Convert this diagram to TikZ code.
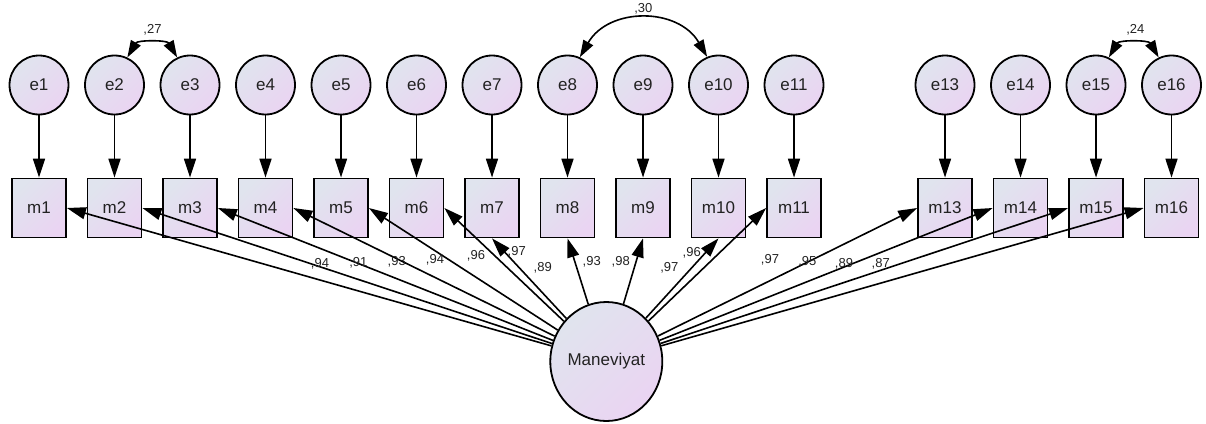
\documentclass[tikz,border=0pt]{standalone}
\usepackage{fontspec}
\setmainfont{Liberation Sans}
\usetikzlibrary{shapes.geometric,arrows.meta}
\definecolor{shA}{HTML}{E0E4EE}
\definecolor{shB}{HTML}{EAD4F2}
\definecolor{txt}{HTML}{222222}
\begin{document}
\begin{tikzpicture}[x=1pt,y=1pt,
  font=\fontsize{17}{18}\selectfont,
  shd/.style={top color=shA,bottom color=shB,shading angle=45},
  errc/.style={circle,draw=black,line width=1.8pt,shd,minimum size=59pt,inner sep=0pt,text=txt},
  obsv/.style={rectangle,draw=black,line width=1.8pt,shd,minimum width=54pt,minimum height=59pt,inner sep=0pt,text=txt},
  latv/.style={ellipse,draw=black,line width=1.8pt,shd,minimum width=112pt,minimum height=119pt,inner sep=0pt,text=txt},
  pth/.style={line width=1.6pt,-{Triangle[length=19pt,width=12pt]}},
  cov/.style={line width=1.6pt,{Triangle[length=17pt,width=11pt]}-{Triangle[length=17pt,width=11pt]}},
  lbl/.style={font=\fontsize{13}{14}\selectfont,text=txt,inner sep=0pt}]
\useasboundingbox (0,0) rectangle (1206,-423);
\foreach \i in {1,...,11,13,14,15,16} {
  \node[errc] (e\i) at ({39+75.5*(\i-1)},-85) {e\i};
  \node[obsv] (m\i) at ({39+75.5*(\i-1)},-208) {m\i};
  \draw[pth] (e\i) -- (m\i);
}
\node[latv] (M) at (606.3,-361.5) {Maneviyat};
\foreach \i in {1,...,6} \draw[pth] (M) -- (m\i.east);
\foreach \i in {7,...,10} \draw[pth] (M) -- (m\i.south);
\foreach \i in {11,13,14,15,16} \draw[pth] (M) -- (m\i.west);
% covariances
\draw[cov] (e2.65) to[bend left=60,looseness=1.04] (e3.115);
\draw[cov] (e8.66) to[bend left=60,looseness=1.16] (e10.112);
\draw[cov] (e15.65) to[bend left=60,looseness=1.04] (e16.115);
\node[lbl] (c1) at (152.5,-30) {,27};
\node[lbl] (c2) at (643.3,-8.3) {,30};
\node[lbl] (c3) at (1135.3,-30) {,24};
% loadings
\node[lbl] (l1) at (320,-263.3) {,94};
\node[lbl] (l2) at (358.3,-263) {,91};
\node[lbl] (l3) at (396.7,-261.7) {,93};
\node[lbl] (l4) at (435,-260) {,94};
\node[lbl] (l5) at (476,-256) {,96};
\node[lbl] (l6) at (516.7,-251.7) {,97};
\node[lbl] (l7) at (542.7,-267.3) {,89};
\node[lbl] (l8) at (591.7,-261.7) {,93};
\node[lbl] (l9) at (620.7,-261.7) {,98};
\node[lbl] (l10) at (669.3,-267.3) {,97};
\node[lbl] (l11) at (691.7,-252.3) {,96};
\node[lbl] (l12) at (770,-260) {,97};
\node[lbl] (l13) at (807.3,-261.7) {,95};
\node[lbl] (l14) at (844,-263.3) {,89};
\node[lbl] (l15) at (880.7,-264) {,87};
\end{tikzpicture}
\end{document}
